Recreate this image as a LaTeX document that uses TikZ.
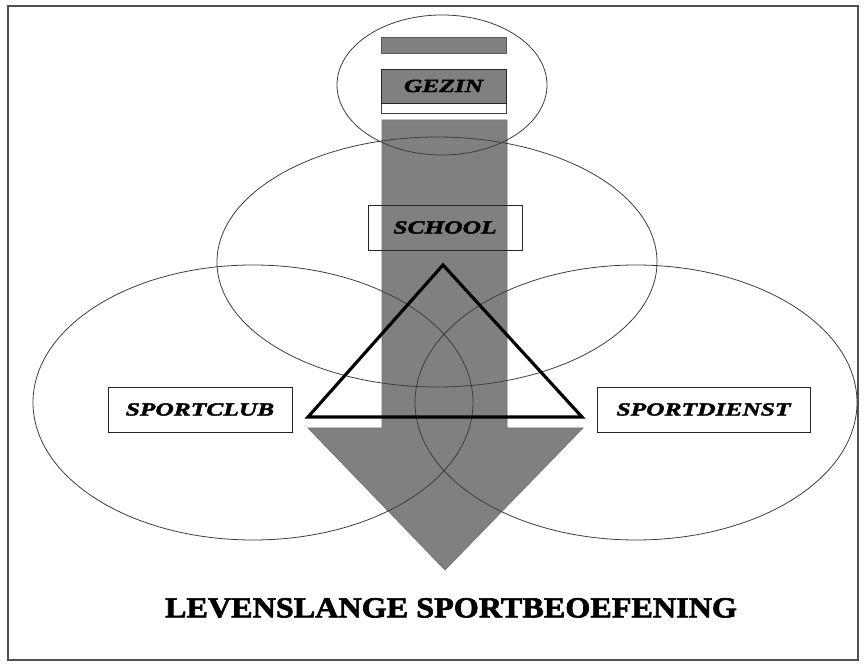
\documentclass[tikz,border=0pt]{standalone}
\usepackage{tikz}
\usepackage{xcolor}
\usepackage{fontspec}
\newfontfamily\labelserif[FakeBold=2.2,FakeStretch=1.38]{Liberation Serif}
\newfontfamily\titleserif[FakeBold=2.2,FakeStretch=1.11]{Liberation Serif}
\definecolor{shaftGray}{RGB}{128,128,128}
\definecolor{ringInk}{RGB}{60,60,60}
\definecolor{frameInk}{RGB}{80,80,80}
\tikzset{
  ring/.style={draw=ringInk,line width=0.45pt},
  labelbox/.style={draw=black!85,line width=0.5pt,inner sep=0pt,
                   font=\labelserif\fontsize{10.5}{12}\selectfont\bfseries\itshape},
}
\begin{document}
\begin{tikzpicture}[x=0.02cm,y=-0.02cm]
\useasboundingbox (0,0) rectangle (866,668);
\draw[draw=frameInk,line width=1.1pt] (8,6) rectangle (858,660);
\filldraw[fill=shaftGray,draw=black!55,line width=0.4pt]
  (382,120) -- (507,120) -- (507,428) -- (583,428) -- (445,570) -- (308,428) -- (382,428) -- cycle;
\filldraw[fill=shaftGray,draw=black!65,line width=0.5pt] (381,37) rectangle (506,53);
\draw[draw=black!75,fill=white,line width=0.5pt] (381,69) rectangle (506,113);
\node[labelbox,fill=shaftGray,minimum width=2.5cm,minimum height=0.68cm] (gezin) at (443.5,86) {GEZIN};
\node[labelbox,minimum width=3.08cm,minimum height=0.9cm] (school) at (445,227.5) {SCHOOL};
\draw[ring] (442,85) ellipse [x radius=105,y radius=70];
\draw[ring] (437,262) ellipse [x radius=220,y radius=125];
\draw[ring] (253,402.5) ellipse [x radius=220,y radius=137.5];
\draw[ring] (636,402.5) ellipse [x radius=221,y radius=137.5];
\draw[line width=1.8pt,line join=miter] (443,265) -- (582,417) -- (308,417) -- cycle;
\node[labelbox,fill=white,minimum width=3.68cm,minimum height=0.9cm] (club) at (200,409.5) {SPORTCLUB};
\node[labelbox,fill=white,minimum width=4.26cm,minimum height=0.9cm] (dienst) at (703.5,409.5) {SPORTDIENST};
\node[font=\titleserif\fontsize{16.5}{18}\selectfont\bfseries,inner sep=0pt] (levenslang) at (451,608)
  {LEVENSLANGE SPORTBEOEFENING};
\end{tikzpicture}
\end{document}
